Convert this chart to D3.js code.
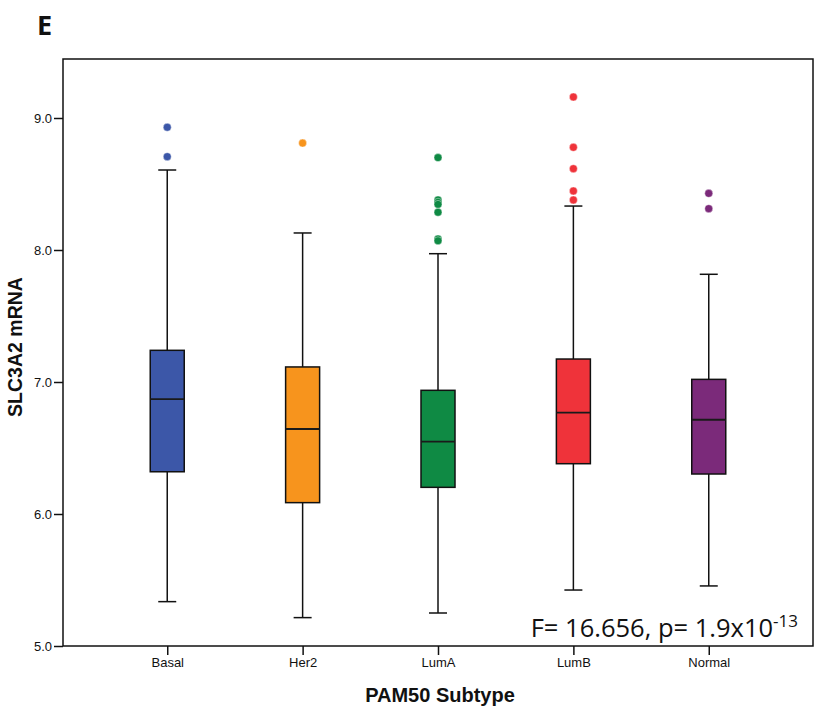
<!DOCTYPE html>
<html><head><meta charset="utf-8">
<script src="https://cdn.jsdelivr.net/npm/d3@7"></script>
<style>body{margin:0;background:#fff}svg{display:block}</style>
</head><body><svg id="c" width="819" height="714"></svg>
<script>
const categories = ["Basal","Her2","LumA","LumB","Normal"];
const colors = ["#3c57a8","#f7941d","#0f8a44","#ef333a","#7b2a7a"];
const q1 = [6.32, 6.086, 6.202, 6.381, 6.303];
const medians = [6.871, 6.644, 6.548, 6.768, 6.714];
const q3 = [7.24, 7.114, 6.937, 7.174, 7.020];
const whiskerLow = [5.336, 5.215, 5.25, 5.424, 5.455];
const whiskerHigh = [8.606, 8.129, 7.972, 8.333, 7.816];
const outliers = [
  [8.93, 8.707],
  [8.81],
  [8.70, 8.379, 8.362, 8.346, 8.286, 8.083, 8.07],
  [9.159, 8.778, 8.616, 8.447, 8.379],
  [8.429, 8.313]
];
const yTicks = [5.0, 6.0, 7.0, 8.0, 9.0];

const svg = d3.select("#c");
const L = 63, R = 813, T = 59, B = 646;
const x = d3.scalePoint().domain(categories).range([L, R]).padding(0.77);
const y = d3.scaleLinear().domain([5.0, 5.0 + (B - T) / 132]).range([B, T]);

svg.append("rect").attr("x", L).attr("y", T).attr("width", R - L).attr("height", B - T)
  .attr("fill", "none").attr("stroke", "#111").attr("stroke-width", 1.5);

const ya = svg.append("g").attr("transform", `translate(${L},0)`)
  .call(d3.axisLeft(y).tickValues(yTicks).tickFormat(d3.format(".1f")).tickSize(9).tickPadding(2));
const xa = svg.append("g").attr("transform", `translate(0,${B})`)
  .call(d3.axisBottom(x).tickSize(9).tickPadding(3));
[ya, xa].forEach(a => {
  a.select(".domain").remove();
  a.selectAll("line").attr("stroke", "#111").attr("stroke-width", 1.5);
  a.selectAll("text").attr("font-family", "Liberation Sans, Arial, sans-serif").attr("font-size", 13).attr("fill", "#111");
});

const boxW = 34, capW = 18;
const g = svg.append("g");
categories.forEach((c, i) => {
  const cx = x(c);
  g.append("line").attr("x1", cx).attr("x2", cx).attr("y1", y(whiskerHigh[i])).attr("y2", y(q3[i]))
    .attr("stroke", "#111").attr("stroke-width", 1.5);
  g.append("line").attr("x1", cx).attr("x2", cx).attr("y1", y(q1[i])).attr("y2", y(whiskerLow[i]))
    .attr("stroke", "#111").attr("stroke-width", 1.5);
  [whiskerHigh[i], whiskerLow[i]].forEach(v => {
    g.append("line").attr("x1", cx - capW / 2).attr("x2", cx + capW / 2).attr("y1", y(v)).attr("y2", y(v))
      .attr("stroke", "#111").attr("stroke-width", 1.5);
  });
  g.append("rect").attr("x", cx - boxW / 2).attr("y", y(q3[i])).attr("width", boxW)
    .attr("height", y(q1[i]) - y(q3[i])).attr("fill", colors[i]).attr("stroke", "#111").attr("stroke-width", 1.5);
  g.append("line").attr("x1", cx - boxW / 2).attr("x2", cx + boxW / 2).attr("y1", y(medians[i])).attr("y2", y(medians[i]))
    .attr("stroke", "#1a1a1a").attr("stroke-width", 1.8);
  outliers[i].forEach(v => {
    g.append("circle").attr("cx", cx).attr("cy", y(v)).attr("r", 4).attr("fill", colors[i])
      .attr("stroke", "#fff").attr("stroke-width", 0.4);
  });
});

svg.append("text").attr("x", 37).attr("y", 35).text("E")
  .attr("font-family", "'Open Sans', sans-serif").attr("font-weight", "bold").attr("font-size", 27).attr("fill", "#111");
svg.append("text").attr("transform", `translate(22,347) rotate(-90)`).attr("text-anchor", "middle")
  .text("SLC3A2 mRNA").attr("font-family", "Liberation Sans, Arial, sans-serif").attr("font-weight", "bold")
  .attr("font-size", 19.5).attr("fill", "#111");
svg.append("text").attr("x", 440).attr("y", 702).attr("text-anchor", "middle")
  .text("PAM50 Subtype").attr("font-family", "Liberation Sans, Arial, sans-serif").attr("font-weight", "bold")
  .attr("font-size", 20).attr("fill", "#111");
const st = svg.append("text").attr("x", 798).attr("y", 637).attr("text-anchor", "end")
  .attr("font-family", "'Open Sans', sans-serif").attr("font-size", 25.5).attr("fill", "#111");
st.append("tspan").text("F= 16.656, p= 1.9x10");
st.append("tspan").attr("font-size", 17).attr("dy", -10).text("-13");
</script></body></html>
